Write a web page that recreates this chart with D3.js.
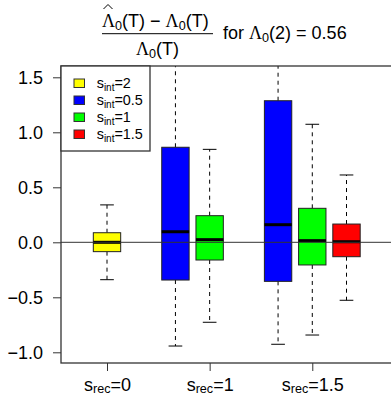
<!DOCTYPE html>
<html>
<head>
<meta charset="utf-8">
<script src="https://cdn.jsdelivr.net/npm/d3@7"></script>
<style>
  body { margin: 0; background: #fff; }
  text { font-family: "Liberation Sans", Arial, sans-serif; }
  .sym { font-family: "Liberation Serif", "Times New Roman", serif; }
</style>
</head>
<body>
<div id="plot"></div>
<script>
// box summaries (lower whisker, q1, median, q3, upper whisker)
var positions = [1, 3, 4, 6, 7, 8]
var sInt = ["2", "0.5", "1", "0.5", "1", "1.5"]
var lowerWhisker = [-0.34, -0.943, -0.727, -0.927, -0.843, -0.527]
var q1 = [-0.085, -0.343, -0.161, -0.355, -0.206, -0.131]
var median = [0.0, 0.096, 0.024, 0.16, 0.015, 0.005]
var q3 = [0.087, 0.864, 0.242, 1.287, 0.309, 0.166]
var upperWhisker = [0.34, 2.1, 0.845, 2.3, 1.073, 0.612]

var legendLabels = ["2", "0.5", "1", "1.5"]
var legendColors = ["#ffff00", "#0000ff", "#00ff00", "#ff0000"]
var colorOf = { "2": "#ffff00", "0.5": "#0000ff", "1": "#00ff00", "1.5": "#ff0000" }

var xTickPos = [1, 4, 7]
var xTickLabels = ["0", "1", "1.5"]
var yTicks = [-1, -0.5, 0, 0.5, 1, 1.5]

var width = 391, height = 395
var plot = { left: 61, top: 66, right: 400, bottom: 363 }

var svg = d3.select("#plot")
  .append("svg")
  .attr("width", width)
  .attr("height", height)

var xScale = d3.scaleLinear()
  .domain([1, 8])
  .range([107, 346.5])

var yScale = d3.scaleLinear()
  .domain([-1, 1.5])
  .range([352.3, 77.3])

var boxW = (xScale(2) - xScale(1)) * 0.8

svg.append("clipPath")
  .attr("id", "clip")
  .append("rect")
  .attr("x", plot.left)
  .attr("y", plot.top)
  .attr("width", plot.right - plot.left)
  .attr("height", plot.bottom - plot.top)

var g = svg.append("g").attr("clip-path", "url(#clip)")

var boxes = g.selectAll(".box")
  .data(positions)
  .enter()
  .append("g")
  .attr("class", "box")

// whiskers
boxes.append("line")
  .attr("x1", d => xScale(d)).attr("x2", d => xScale(d))
  .attr("y1", (d, i) => yScale(q3[i])).attr("y2", (d, i) => yScale(upperWhisker[i]))
  .attr("stroke", "#000").attr("stroke-dasharray", "4,4")
boxes.append("line")
  .attr("x1", d => xScale(d)).attr("x2", d => xScale(d))
  .attr("y1", (d, i) => yScale(q1[i])).attr("y2", (d, i) => yScale(lowerWhisker[i]))
  .attr("stroke", "#000").attr("stroke-dasharray", "4,4")
// caps
boxes.append("line")
  .attr("x1", d => xScale(d) - boxW / 4).attr("x2", d => xScale(d) + boxW / 4)
  .attr("y1", (d, i) => yScale(upperWhisker[i])).attr("y2", (d, i) => yScale(upperWhisker[i]))
  .attr("stroke", "#000")
boxes.append("line")
  .attr("x1", d => xScale(d) - boxW / 4).attr("x2", d => xScale(d) + boxW / 4)
  .attr("y1", (d, i) => yScale(lowerWhisker[i])).attr("y2", (d, i) => yScale(lowerWhisker[i]))
  .attr("stroke", "#000")

boxes.append("rect")
  .attr("x", d => xScale(d) - boxW / 2)
  .attr("width", boxW)
  .attr("y", (d, i) => yScale(q3[i]))
  .attr("height", (d, i) => yScale(q1[i]) - yScale(q3[i]))
  .attr("fill", (d, i) => colorOf[sInt[i]])
  .attr("stroke", "#222")

boxes.append("line")
  .attr("x1", d => xScale(d) - boxW / 2).attr("x2", d => xScale(d) + boxW / 2)
  .attr("y1", (d, i) => yScale(median[i])).attr("y2", (d, i) => yScale(median[i]))
  .attr("stroke", "#000").attr("stroke-width", 3)

// abline h = 0
g.append("line")
  .attr("x1", plot.left).attr("x2", plot.right)
  .attr("y1", yScale(0)).attr("y2", yScale(0))
  .attr("stroke", "#333").attr("stroke-width", 1)

// axes
var yAxis = svg.append("g")
  .attr("transform", "translate(" + plot.left + ",0)")
  .call(d3.axisLeft(yScale).tickValues(yTicks).tickSize(8).tickPadding(10)
    .tickFormat(d => d3.format(".1f")(d).replace("-", "\u2212")))
yAxis.select(".domain").remove()
yAxis.selectAll("text").attr("font-size", 18).attr("font-family", "Liberation Sans, Arial, sans-serif").attr("fill", "#000")
yAxis.selectAll("line").attr("stroke", "#333")

var xAxis = svg.append("g")
  .attr("transform", "translate(0," + plot.bottom + ")")
  .call(d3.axisBottom(xScale).tickValues(xTickPos).tickSize(8).tickFormat(""))
xAxis.select(".domain").remove()
xAxis.selectAll("line").attr("stroke", "#333")
xAxis.selectAll(".tick").append("text")
  .attr("y", 27.5)
  .attr("fill", "#000")
  .attr("font-size", 18)
  .attr("font-family", "Liberation Sans, Arial, sans-serif")
  .attr("text-anchor", "middle")
  .each(function (d, i) {
    var t = d3.select(this)
    t.append("tspan").text("s")
    t.append("tspan").attr("font-size", 12.6).attr("dy", 2.5).text("rec")
    t.append("tspan").attr("dy", -2.5).text("=" + xTickLabels[i])
  })

// frame
svg.append("rect")
  .attr("x", plot.left).attr("y", plot.top)
  .attr("width", plot.right - plot.left).attr("height", plot.bottom - plot.top)
  .attr("fill", "none").attr("stroke", "#333").attr("stroke-width", 1.3)

// legend
var leg = svg.append("g")
leg.append("rect")
  .attr("x", plot.left).attr("y", plot.top)
  .attr("width", 89).attr("height", 85)
  .attr("fill", "#fff").attr("stroke", "#333").attr("stroke-width", 1.3)
var items = leg.selectAll(".item")
  .data(legendLabels)
  .enter()
  .append("g")
  .attr("transform", (d, i) => "translate(0," + (83.5 + i * 17) + ")")
items.append("rect")
  .attr("x", 74).attr("y", -4.5).attr("width", 10.5).attr("height", 8.5)
  .attr("fill", (d, i) => legendColors[i]).attr("stroke", "#333")
items.append("text")
  .attr("x", 96.7).attr("y", 4.5)
  .attr("font-size", 14.4)
  .each(function (d) {
    var t = d3.select(this)
    t.append("tspan").text("s")
    t.append("tspan").attr("font-size", 10).attr("dy", 3).text("int")
    t.append("tspan").attr("dy", -3).text("=" + d)
  })

// title
function lambda0(t, after, size) {
  t.append("tspan").attr("class", "sym").text("\u039B")
  t.append("tspan").attr("font-size", size * 0.7).attr("dy", 3).text("0")
  t.append("tspan").attr("dy", -3).text(after)
}
var title = svg.append("g")
var num = title.append("text").attr("x", 102).attr("y", 27).attr("font-size", 18)
lambda0(num, "(T) \u2212 ", 18)
lambda0(num, "(T)", 18)
// hat accent over the first Lambda
title.append("path")
  .attr("d", "M103.5,9L108,4.5L112.5,9")
  .attr("fill", "none").attr("stroke", "#000").attr("stroke-width", 1)
title.append("line")
  .attr("x1", 102).attr("x2", 213).attr("y1", 33.7).attr("y2", 33.7)
  .attr("stroke", "#000")
var den = title.append("text").attr("x", 157.5).attr("y", 55).attr("text-anchor", "middle").attr("font-size", 18)
lambda0(den, "(T)", 18)
var rest = title.append("text").attr("x", 223).attr("y", 39.3).attr("font-size", 18)
rest.append("tspan").text("for ")
lambda0(rest, "(2) = 0.56", 18)
</script>
</body>
</html>
